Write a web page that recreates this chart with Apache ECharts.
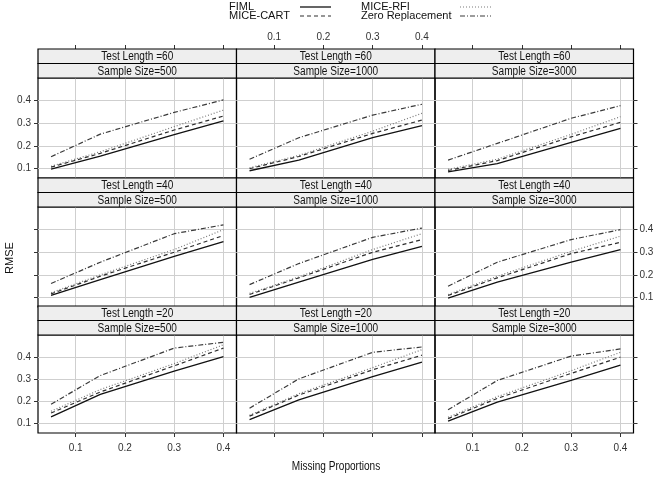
<!DOCTYPE html>
<html><head><meta charset="utf-8">
<script src="https://cdn.jsdelivr.net/npm/echarts@6/dist/echarts.min.js"></script>
<style>html,body{margin:0;padding:0;background:#fff}#c{width:654px;height:478px}</style>
</head><body><div id="c"></div>
<script>
// ---------------- data ----------------
const proportions = [0.05, 0.15, 0.3, 0.4];
const testLengths = [60, 40, 20];
const sampleSizes = [500, 1000, 3000];
const xTicks = [0.1, 0.2, 0.3, 0.4];
const yTicks = [0.1, 0.2, 0.3, 0.4];
const methods = ['FIML', 'MICE-CART', 'MICE-RFI', 'Zero Replacement'];
// panels ordered by row (Test Length 60, 40, 20), then column (Sample Size 500, 1000, 3000)
const fiml = [
  [0.097, 0.155, 0.250, 0.311], [0.090, 0.137, 0.236, 0.289], [0.085, 0.122, 0.215, 0.277],
  [0.109, 0.179, 0.282, 0.347], [0.101, 0.168, 0.268, 0.326], [0.097, 0.168, 0.256, 0.312],
  [0.131, 0.232, 0.337, 0.403], [0.118, 0.207, 0.312, 0.378], [0.112, 0.197, 0.295, 0.364]
];
const miceCart = [
  [0.106, 0.167, 0.270, 0.332], [0.099, 0.153, 0.255, 0.314], [0.091, 0.135, 0.240, 0.304],
  [0.116, 0.194, 0.300, 0.374], [0.113, 0.187, 0.300, 0.356], [0.109, 0.187, 0.294, 0.344],
  [0.148, 0.243, 0.361, 0.441], [0.134, 0.229, 0.343, 0.409], [0.123, 0.214, 0.327, 0.400]
];
const miceRfi = [
  [0.110, 0.174, 0.285, 0.358], [0.103, 0.158, 0.265, 0.344], [0.096, 0.141, 0.251, 0.329],
  [0.121, 0.200, 0.312, 0.400], [0.118, 0.191, 0.312, 0.382], [0.113, 0.194, 0.304, 0.371],
  [0.156, 0.254, 0.371, 0.456], [0.138, 0.235, 0.353, 0.434], [0.129, 0.222, 0.339, 0.422]
];
const zeroRep = [
  [0.152, 0.252, 0.348, 0.403], [0.141, 0.236, 0.336, 0.384], [0.137, 0.211, 0.322, 0.378],
  [0.162, 0.256, 0.382, 0.421], [0.157, 0.250, 0.366, 0.407], [0.150, 0.256, 0.356, 0.400],
  [0.188, 0.317, 0.441, 0.467], [0.170, 0.302, 0.422, 0.446], [0.163, 0.295, 0.405, 0.437]
];

// ---------------- layout / style ----------------
const SANS = '"Liberation Sans", Arial, sans-serif';
const NARROW_SCALE = 0.84;
const colLeft = [38, 236.5, 435];
const panelW = 198.5;
const plotTop = [78, 207, 335];
const plotH = [100, 100, 98];
const stripH = 14.5;
const xMin = 0.0235, xMax = 0.4265, yMin = 0.058, yMax = 0.5;
const lineStyles = [
  { color: '#111111', width: 1.3, type: 'solid' },
  { color: '#2e2e2e', width: 1.2, type: [4, 3] },
  { color: '#7a7a7a', width: 1.2, type: [1, 2] },
  { color: '#3a3a3a', width: 1.2, type: [5, 2, 1, 2] }
];
const seriesData = [fiml, miceCart, miceRfi, zeroRep];
const fmt = v => v.toFixed(1);
const tickFont = { fontSize: 10, color: '#333', fontFamily: SANS };
const borderCol = '#000000';

const grids = [], xAxes = [], yAxes = [], series = [], graphics = [];
const extraX = [], extraY = [];

function narrowText(text, x, y, size, extra) {
  return Object.assign({
    type: 'text', x: x, y: y, scaleX: NARROW_SCALE, z: 11,
    style: { text: text, align: 'center', verticalAlign: 'middle', textAlign: 'center', textVerticalAlign: 'middle',
      fontSize: size, fontFamily: SANS, fill: '#111' }
  }, extra || {});
}

for (let r = 0; r < 3; r++) {
  for (let c = 0; c < 3; c++) {
    const i = r * 3 + c;
    grids.push({
      left: colLeft[c], top: plotTop[r], width: panelW, height: plotH[r],
      show: true, borderColor: borderCol, borderWidth: 1.2, backgroundColor: 'transparent',
      containLabel: false, outerBoundsMode: 'none'
    });
    xAxes.push({
      type: 'value', gridIndex: i, min: xMin, max: xMax, position: 'bottom',
      axisLine: { show: false },
      axisTick: { show: r === 2, customValues: xTicks, length: 4, lineStyle: { color: '#333' } },
      axisLabel: Object.assign({ show: r === 2 && c !== 1, customValues: xTicks, margin: 10, formatter: fmt }, tickFont),
      splitLine: { show: true, lineStyle: { color: '#cfcfcf', width: 1 } }
    });
    yAxes.push({
      type: 'value', gridIndex: i, min: yMin, max: yMax, position: 'left',
      axisLine: { show: false },
      axisTick: { show: c === 0, customValues: yTicks, length: 4, lineStyle: { color: '#333' } },
      axisLabel: Object.assign({ show: c === 0 && r !== 1, customValues: yTicks, margin: 7, formatter: fmt }, tickFont),
      splitLine: { show: true, lineStyle: { color: '#cfcfcf', width: 1 } }
    });
    if (r === 0) {
      extraX.push({
        type: 'value', gridIndex: i, min: xMin, max: xMax, position: 'top', offset: 29,
        axisLine: { show: false },
        axisTick: { show: true, customValues: xTicks, length: 4, lineStyle: { color: '#333' } },
        axisLabel: Object.assign({ show: c === 1, customValues: xTicks, margin: 7, formatter: fmt }, tickFont),
        splitLine: { show: false }
      });
    }
    if (c === 2) {
      extraY.push({
        type: 'value', gridIndex: i, min: yMin, max: yMax, position: 'right',
        axisLine: { show: false },
        axisTick: { show: true, customValues: yTicks, length: 4, lineStyle: { color: '#333' } },
        axisLabel: Object.assign({ show: r === 1, customValues: yTicks, margin: 6, formatter: fmt }, tickFont),
        splitLine: { show: false }
      });
    }
    seriesData.forEach((arr, m) => {
      series.push({
        name: methods[m], type: 'line', xAxisIndex: i, yAxisIndex: i,
        data: proportions.map((p, k) => [p, arr[i][k]]),
        showSymbol: false, symbol: 'none', silent: true,
        lineStyle: lineStyles[m], z: 3 + (3 - m)
      });
    });
    // strips
    const st = plotTop[r] - 2 * stripH;
    const labels = ['Test Length =' + testLengths[r], 'Sample Size=' + sampleSizes[c]];
    labels.forEach((t, k) => {
      graphics.push({
        type: 'rect', shape: { x: colLeft[c], y: st + k * stripH, width: panelW, height: stripH },
        style: { fill: '#eeeeee', stroke: borderCol, lineWidth: 1.2 }, z: 10
      });
      graphics.push(narrowText(t, colLeft[c] + panelW / 2, st + k * stripH + stripH / 2 + 0.5, 12));
    });
  }
}

// legend (key drawn at the top)
const legendPos = [
  { tx: 229, lx: 300, y: 7 }, { tx: 229, lx: 300, y: 16 },
  { tx: 361, lx: 460, y: 7 }, { tx: 361, lx: 460, y: 16 }
];
methods.forEach((m, k) => {
  const p = legendPos[k];
  graphics.push({
    type: 'text', x: p.tx, y: p.y, z: 11,
    style: { text: m, align: 'left', verticalAlign: 'middle', textAlign: 'left', textVerticalAlign: 'middle',
      fontSize: 11, fontFamily: SANS, fill: '#111' }
  });
  const ls = lineStyles[k];
  graphics.push({
    type: 'line', z: 11, shape: { x1: p.lx, y1: p.y, x2: p.lx + 31, y2: p.y },
    style: { stroke: ls.color, lineWidth: ls.width, lineDash: Array.isArray(ls.type) ? ls.type : null }
  });
});
// axis titles
graphics.push({
  type: 'text', x: 10, y: 258, rotation: Math.PI / 2, z: 11,
  style: { text: 'RMSE', align: 'center', verticalAlign: 'middle', textAlign: 'center', textVerticalAlign: 'middle',
    fontSize: 11, fontFamily: SANS, fill: '#111' }
});
graphics.push(narrowText('Missing Proportions', 336, 467, 12));

const chart = echarts.init(document.getElementById('c'), null, { renderer: 'canvas' });
chart.setOption({
  animation: false,
  backgroundColor: '#ffffff',
  grid: grids,
  xAxis: xAxes.concat(extraX),
  yAxis: yAxes.concat(extraY),
  series: series,
  graphic: graphics
});
</script>
</body></html>
